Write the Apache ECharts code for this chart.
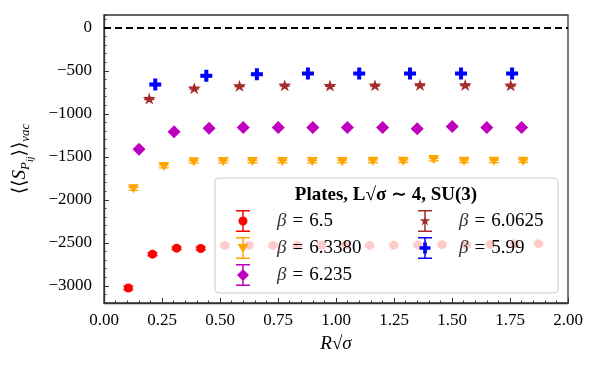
<!DOCTYPE html>
<html>
<head>
<meta charset="utf-8">
<script src="https://cdn.jsdelivr.net/npm/echarts@6/dist/echarts.min.js"></script>
<style>
  html, body { margin: 0; padding: 0; background: #fff; }
  #chart { width: 600px; height: 370px; }
</style>
</head>
<body>
<div id="chart"></div>
<script>
// 数据（从图上读出来的）
const names = ['β = 6.5', 'β = 6.3380', 'β = 6.235', 'β = 6.0625', 'β = 5.99'];
const colors = ['#ff0000', '#ffa500', '#bf00bf', '#a52a2a', '#0000ff'];

const x65 = [0.105, 0.209, 0.313, 0.417, 0.521, 0.625, 0.729, 0.833, 0.937, 1.041, 1.145, 1.249, 1.353, 1.457, 1.561, 1.665, 1.769, 1.873];
const y65 = [-3025, -2632, -2562, -2566, -2530, -2528, -2530, -2532, -2528, -2526, -2530, -2528, -2524, -2522, -2524, -2520, -2512, -2510];
const e65 = [22, 18, 16, 16, 15, 15, 15, 15, 15, 15, 15, 15, 15, 15, 15, 15, 15, 15];

const x6338 = [0.127, 0.258, 0.387, 0.514, 0.640, 0.769, 0.898, 1.027, 1.159, 1.290, 1.421, 1.552, 1.681, 1.807];
const y6338 = [-1872, -1612, -1556, -1555, -1554, -1554, -1555, -1554, -1552, -1550, -1532, -1552, -1552, -1550];
const e6338 = [18, 16, 15, 15, 15, 15, 15, 15, 15, 15, 15, 15, 15, 15];

const x6235 = [0.151, 0.302, 0.453, 0.600, 0.751, 0.900, 1.049, 1.201, 1.350, 1.501, 1.650, 1.800];
const y6235 = [-1411, -1209, -1166, -1160, -1160, -1160, -1160, -1160, -1174, -1148, -1160, -1160];
const e6235 = [12, 10, 10, 10, 10, 10, 10, 10, 10, 10, 10, 10];

const x60625 = [0.195, 0.389, 0.584, 0.779, 0.974, 1.168, 1.362, 1.557, 1.753];
const y60625 = [-822, -701, -674, -667, -670, -667, -663, -663, -667];
const e60625 = [12, 10, 10, 10, 10, 10, 10, 10, 10];

const x599 = [0.221, 0.441, 0.659, 0.879, 1.100, 1.319, 1.539, 1.759];
const y599 = [-659, -558, -539, -531, -531, -531, -531, -531];
const e599 = [12, 10, 10, 10, 10, 10, 10, 10];

const xs = [x65, x6338, x6235, x60625, x599];
const ys = [y65, y6338, y6235, y60625, y599];
const es = [e65, e6338, e6235, e60625, e599];

// 标记形状
const starPath = 'path://M0,-100 L22,-31 L95,-31 L36,12 L59,81 L0,38 L-59,81 L-36,12 L-95,-31 L-22,-31 Z';
const plusPath = 'path://M2,0 H4 V2 H6 V4 H4 V6 H2 V4 H0 V2 H2 Z';
const symbols = ['circle', 'triangle', 'diamond', starPath, plusPath];
const symbolSizes = [9, [11, 9], [13, 13], [13, 12], [12, 12]];
const symbolRotates = [0, 180, 0, 0, 0];

// 图例图标：误差棒 + 标记
const bar = 'M0,0 H14 V1.5 H0 Z M6.25,0 H7.75 V22 H6.25 Z M0,20.5 H14 V22 H0 Z ';
const legendIcons = [
  'path://' + bar + 'M2.5,11 A4.5,4.5 0 1 1 11.5,11 A4.5,4.5 0 1 1 2.5,11 Z',
  'path://' + bar + 'M1.5,7 L12.5,7 L7,16 Z',
  'path://' + bar + 'M7,5 L13,11 L7,17 L1,11 Z',
  'path://' + bar + 'M7,5.5 L8.23,9.3 L12.23,9.3 L9,11.65 L10.23,15.45 L7,13.1 L3.77,15.45 L5,11.65 L1.77,9.3 L5.77,9.3 Z',
  'path://' + bar + 'M5.15,5.5 H8.85 V9.15 H12.5 V12.85 H8.85 V16.5 H5.15 V12.85 H1.5 V9.15 H5.15 Z'
];

const font = "'Liberation Serif', 'DejaVu Serif', serif";

function errorBarItem(params, api) {
  const x = api.value(0);
  const top = api.coord([x, api.value(2)]);
  const bottom = api.coord([x, api.value(1)]);
  const w = 5;
  const style = { stroke: api.visual('color'), lineWidth: 1.3 };
  return {
    type: 'group',
    children: [
      { type: 'line', shape: { x1: top[0], y1: top[1], x2: bottom[0], y2: bottom[1] }, style: style },
      { type: 'line', shape: { x1: top[0] - w, y1: top[1], x2: top[0] + w, y2: top[1] }, style: style },
      { type: 'line', shape: { x1: bottom[0] - w, y1: bottom[1], x2: bottom[0] + w, y2: bottom[1] }, style: style }
    ]
  };
}

const series = [];
names.forEach((name, i) => {
  series.push({
    name: name,
    type: 'custom',
    renderItem: errorBarItem,
    itemStyle: { color: colors[i] },
    data: xs[i].map((v, k) => [v, ys[i][k] - es[i][k], ys[i][k] + es[i][k]]),
    z: 2,
    silent: true
  });
  series.push({
    name: name,
    type: 'scatter',
    symbol: symbols[i],
    symbolSize: symbolSizes[i],
    symbolRotate: symbolRotates[i],
    itemStyle: { color: colors[i], opacity: 1 },
    data: xs[i].map((v, k) => [v, ys[i][k]]),
    z: 3
  });
});

// y = 0 的虚线
series[0].markLine = {
  silent: true,
  symbol: 'none',
  label: { show: false },
  lineStyle: { color: '#000', type: [7, 4], width: 2 },
  data: [{ yAxis: 0 }]
};

const legendText = {
  fontFamily: font,
  fontSize: 19,
  color: '#000',
  rich: {
    s: { width: 22 },
    i: { fontFamily: font, fontSize: 19, fontStyle: 'italic', color: '#333' },
    e: { fontFamily: font, fontSize: 19, color: '#000', padding: [0, 6, 0, 6] },
    n: { fontFamily: font, fontSize: 19, color: '#000' }
  }
};
const legendFormatter = name => '{s|}{i|β}{e|=}{n|' + name.split('= ')[1] + '}';

const chart = echarts.init(document.getElementById('chart'));
chart.setOption({
  animation: false,
  grid: {
    left: 104, right: 32, top: 15, bottom: 67,
    show: true, borderColor: '#333', borderWidth: 1.3
  },
  xAxis: {
    type: 'value',
    min: 0, max: 2, interval: 0.25,
    name: 'R√σ',
    nameLocation: 'middle',
    nameGap: 31,
    nameTextStyle: { fontFamily: font, fontSize: 19, fontStyle: 'italic', color: '#000' },
    axisLine: { onZero: false, lineStyle: { color: '#333', width: 1.3 } },
    axisTick: { inside: true, length: 5, lineStyle: { color: '#333' } },
    minorTick: { show: true, splitNumber: 5, length: 2.5, lineStyle: { color: '#333' } },
    splitLine: { show: false },
    axisLabel: { fontFamily: font, fontSize: 17, color: '#000', margin: 9, formatter: v => v.toFixed(2) }
  },
  yAxis: [
    {
      type: 'value',
      min: -3200, max: 150, splitNumber: 7,
      name: '{a|⟨⟨}{b|S}{c|P}{d|ij}{a|⟩⟩}{c|vac}',
      nameLocation: 'middle',
      nameGap: 72,
      nameTextStyle: {
        rich: {
          a: { fontFamily: font, fontSize: 19, color: '#000', lineHeight: 24, verticalAlign: 'middle' },
          b: { fontFamily: font, fontSize: 19, fontStyle: 'italic', color: '#000', lineHeight: 24, verticalAlign: 'middle' },
          c: { fontFamily: font, fontSize: 13, fontStyle: 'italic', color: '#000', lineHeight: 24, verticalAlign: 'bottom' },
          d: { fontFamily: font, fontSize: 10, fontStyle: 'italic', color: '#000', lineHeight: 24, verticalAlign: 'bottom', padding: [0, 0, -3, 0] }
        }
      },
      axisLine: { show: true, onZero: false, lineStyle: { color: '#333', width: 1.3 } },
      axisTick: { show: true, inside: true, length: 5, lineStyle: { color: '#333' } },
      splitLine: { show: false },
      axisLabel: {
        fontFamily: font, fontSize: 17, color: '#000', margin: 12,
        showMinLabel: false, showMaxLabel: false,
        formatter: v => (v < 0 ? '−' + Math.abs(v) : String(v))
      }
    },
    {
      // 次刻度
      type: 'value',
      position: 'left',
      min: -3200, max: 150, interval: 100,
      axisLine: { show: false, onZero: false },
      axisTick: { show: true, inside: true, length: 2.5, lineStyle: { color: '#333' } },
      axisLabel: { show: false },
      splitLine: { show: false }
    }
  ],
  legend: [
    {
      orient: 'vertical',
      left: 236, top: 210,
      padding: 0,
      itemWidth: 14, itemHeight: 22, itemGap: 5,
      selectedMode: false,
      z: 6,
      data: names.slice(0, 3).map((n, i) => ({ name: n, icon: legendIcons[i], itemStyle: { color: colors[i] } })),
      textStyle: legendText,
      formatter: legendFormatter
    },
    {
      orient: 'vertical',
      left: 418, top: 210,
      padding: 0,
      itemWidth: 14, itemHeight: 22, itemGap: 5,
      selectedMode: false,
      z: 6,
      data: names.slice(3).map((n, i) => ({ name: n, icon: legendIcons[i + 3], itemStyle: { color: colors[i + 3] } })),
      textStyle: legendText,
      formatter: legendFormatter
    }
  ],
  graphic: [
    {
      type: 'rect',
      z: 5,
      shape: { x: 215, y: 178, width: 343, height: 115, r: 4 },
      style: { fill: 'rgba(255,255,255,0.8)', stroke: '#cccccc', lineWidth: 1 }
    },
    {
      type: 'text',
      z: 6,
      x: 386, y: 195,
      style: {
        text: 'Plates, L√σ ∼ 4, SU(3)',
        font: "bold 19px 'Liberation Serif', 'DejaVu Serif', serif",
        fill: '#000',
        align: 'center',
        verticalAlign: 'middle'
      }
    }
  ],
  series: series
});
</script>
</body>
</html>
